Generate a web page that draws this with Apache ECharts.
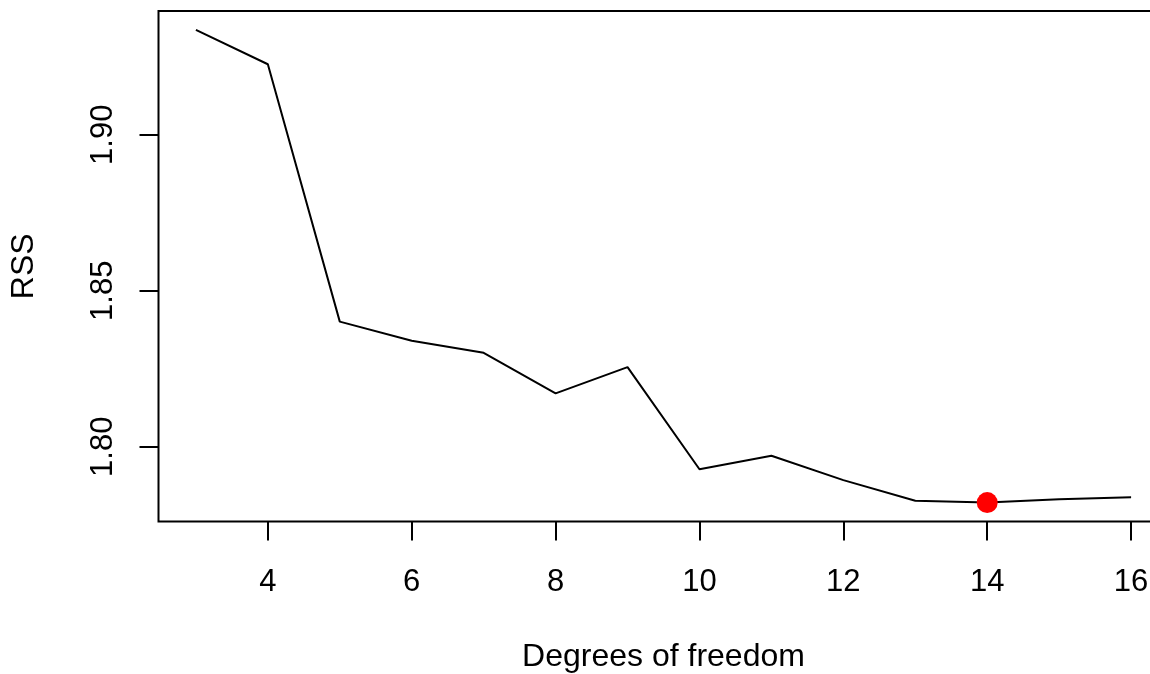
<!DOCTYPE html>
<html>
<head>
<meta charset="utf-8">
<script src="https://cdn.jsdelivr.net/npm/echarts@6/dist/echarts.min.js"></script>
<style>
  html, body { margin: 0; padding: 0; background: #fff; overflow: hidden; }
  #chart { width: 1150px; height: 674px; }
</style>
</head>
<body>
<div id="chart"></div>
<script>
// Residual sum of squares against spline degrees of freedom
const degreesOfFreedom = [3, 4, 5, 6, 7, 8, 9, 10, 11, 12, 13, 14, 15, 16];
const rss = [1.9336, 1.9226, 1.8401, 1.8340, 1.8301, 1.8171, 1.8255, 1.7928,
             1.7971, 1.7893, 1.7827, 1.7821, 1.7832, 1.7838];
const xTicks = [4, 6, 8, 10, 12, 14, 16];
const yTicks = [1.80, 1.85, 1.90];

// Best fit: the smallest RSS
let best = 0;
rss.forEach((v, i) => { if (v < rss[best]) best = i; });

// Base-graphics style 4% padding around the data range
function padded(arr) {
  const lo = Math.min(...arr), hi = Math.max(...arr), d = (hi - lo) * 0.04;
  return [lo - d, hi + d];
}
const [xMin, xMax] = padded(degreesOfFreedom);
const [yMin, yMax] = padded(rss);

const font = 'Liberation Sans, Arial, sans-serif';
const tickFs = 31;
const titleFs = 32;
const chart = echarts.init(document.getElementById('chart'), null, { renderer: 'canvas' });
chart.setOption({
  animation: false,
  backgroundColor: '#ffffff',
  // the plot box runs past the right edge of the page
  grid: {
    left: 158.5, top: 11, width: 1010, height: 510.5,
    outerBoundsMode: 'none', containLabel: false,
    show: true, borderColor: '#000', borderWidth: 2, backgroundColor: 'transparent'
  },
  xAxis: {
    type: 'value', min: xMin, max: xMax,
    name: 'Degrees of freedom', nameLocation: 'middle', nameGap: 120,
    nameTextStyle: { color: '#000', fontSize: titleFs, fontFamily: font },
    axisLine: { show: false },
    axisTick: { show: true, customValues: xTicks, length: 19, lineStyle: { color: '#000', width: 2 } },
    axisLabel: { customValues: xTicks, margin: 45, color: '#000', fontSize: tickFs, fontFamily: font },
    splitLine: { show: false }
  },
  yAxis: {
    type: 'value', min: yMin, max: yMax,
    name: 'RSS', nameLocation: 'middle', nameGap: 118, nameRotate: 90,
    nameTextStyle: { color: '#000', fontSize: titleFs, fontFamily: font },
    axisLine: { show: false },
    axisTick: { show: true, customValues: yTicks, length: 19, lineStyle: { color: '#000', width: 2 } },
    axisLabel: {
      customValues: yTicks, rotate: 90, margin: 40, color: '#000', fontSize: tickFs, fontFamily: font,
      formatter: v => v.toFixed(2)
    },
    splitLine: { show: false }
  },
  series: [
    {
      type: 'line',
      data: degreesOfFreedom.map((d, i) => [d, rss[i]]),
      showSymbol: false,
      lineStyle: { color: '#000', width: 2 },
      z: 2
    },
    {
      type: 'scatter',
      data: [[degreesOfFreedom[best], rss[best]]],
      symbol: 'circle', symbolSize: 21,
      itemStyle: { color: '#ff0000', opacity: 1 },
      emphasis: { disabled: true },
      z: 3
    }
  ]
});
</script>
</body>
</html>
